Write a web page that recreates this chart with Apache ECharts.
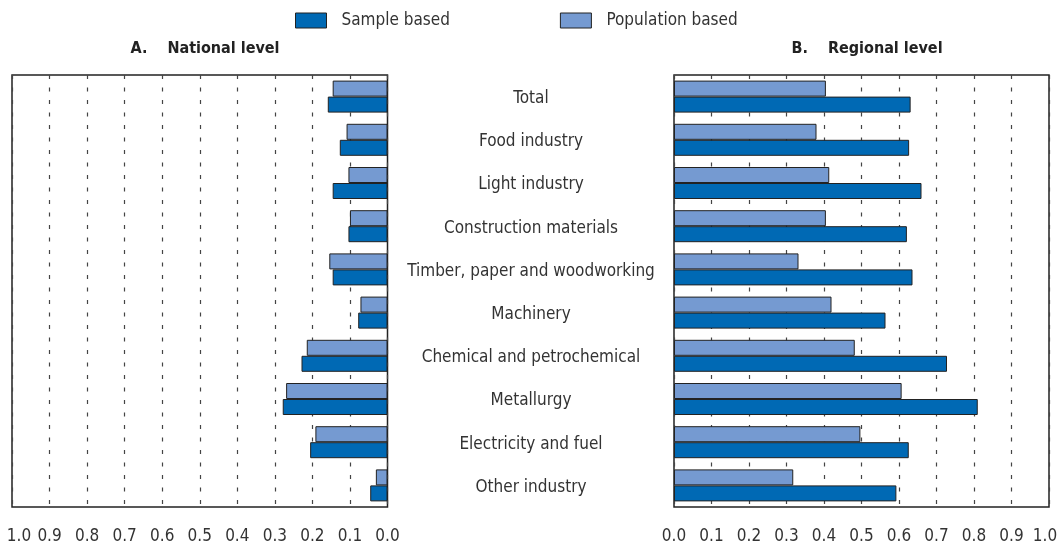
<!DOCTYPE html>
<html>
<head>
<meta charset="utf-8">
<script src="https://cdn.jsdelivr.net/npm/echarts@6/dist/echarts.min.js"></script>
<style>
  html, body { margin: 0; padding: 0; background: #fff; }
  #chart { width: 1057px; height: 547px; }
</style>
</head>
<body>
<div id="chart"></div>
<script>
// Industry groups, top to bottom
const categories = [
  'Total', 'Food industry', 'Light industry', 'Construction materials',
  'Timber, paper and woodworking', 'Machinery', 'Chemical and petrochemical',
  'Metallurgy', 'Electricity and fuel', 'Other industry'
];

// A. National level
const nationalSample     = [0.159, 0.127, 0.146, 0.104, 0.146, 0.078, 0.229, 0.279, 0.206, 0.046];
const nationalPopulation = [0.146, 0.109, 0.104, 0.100, 0.155, 0.072, 0.215, 0.270, 0.192, 0.031];

// B. Regional level
const regionalSample     = [0.631, 0.627, 0.660, 0.621, 0.636, 0.564, 0.728, 0.810, 0.626, 0.593];
const regionalPopulation = [0.405, 0.380, 0.414, 0.405, 0.332, 0.420, 0.482, 0.607, 0.497, 0.318];

const seriesNames = ['Sample based', 'Population based'];
const panelTitles = ['A.    National level', 'B.    Regional level'];

const FONT = '"DejaVu Sans Condensed", "Liberation Sans Narrow", "Roboto", sans-serif';
const TEXT = '#333';
const SAMPLE_COLOR = '#0069b4';
const POP_COLOR = '#759ad1';

const chart = echarts.init(document.getElementById('chart'), null, { renderer: 'canvas' });

const labelFont = { color: TEXT, fontFamily: FONT, fontSize: 17 };

// The outer 1.0 label is nudged inward so it stays inside the canvas
function valueAxis(gridIndex, inverse) {
  return {
    type: 'value', gridIndex, min: 0, max: 1, interval: 0.1, inverse,
    axisLine: { show: false },
    axisTick: { show: false },
    axisLabel: Object.assign({}, labelFont, {
      margin: 21,
      formatter: v => v === 1 ? '{edge|' + v.toFixed(1) + '}' : v.toFixed(1),
      rich: {
        edge: Object.assign({}, labelFont, { padding: inverse ? [0, 0, 0, 14] : [0, 8, 0, 0] })
      }
    }),
    splitLine: { show: true, lineStyle: { color: '#444', width: 1.2, type: [4, 8.5] } }
  };
}

function categoryAxis(gridIndex, showLabels) {
  return {
    type: 'category', gridIndex, data: categories, inverse: true,
    axisLine: { show: false },
    axisTick: { show: false },
    axisLabel: showLabels ? Object.assign({}, labelFont, {
      show: true, align: 'center', margin: 143,
      formatter: v => '{c|' + v + '}',
      rich: { c: Object.assign({}, labelFont, { padding: [4, 0, 0, 0] }) }
    }) : { show: false }
  };
}

function barSeries(name, data, idx, color) {
  return {
    name, type: 'bar', xAxisIndex: idx, yAxisIndex: idx, data,
    barWidth: 16, barGap: '0%',
    itemStyle: { color, borderColor: '#222', borderWidth: 1 },
    emphasis: { disabled: true },
    animation: false
  };
}

const titleStyle = { fontFamily: FONT, fontSize: 16, fontWeight: 'bold', color: '#222' };

chart.setOption({
  animation: false,
  textStyle: { fontFamily: FONT },
  title: [
    { text: panelTitles[0], left: 200, top: 36, textAlign: 'center', textStyle: titleStyle },
    { text: panelTitles[1], left: 862, top: 36, textAlign: 'center', textStyle: titleStyle }
  ],
  legend: {
    data: seriesNames, left: 295, top: 12, padding: 0,
    itemWidth: 31, itemHeight: 15, itemGap: 110,
    icon: 'rect',
    itemStyle: { borderColor: '#222', borderWidth: 1 },
    textStyle: { color: TEXT, fontFamily: FONT, fontSize: 17, padding: [0, 0, 0, 10] },
    selectedMode: false
  },
  grid: [
    { left: 12, top: 75, width: 375.5, height: 432, outerBoundsMode: 'none',
      show: true, borderColor: '#222', borderWidth: 1.5, backgroundColor: 'transparent' },
    { left: 674, top: 75, width: 375, height: 432, outerBoundsMode: 'none',
      show: true, borderColor: '#222', borderWidth: 1.5, backgroundColor: 'transparent' }
  ],
  xAxis: [valueAxis(0, true), valueAxis(1, false)],
  yAxis: [categoryAxis(0, false), categoryAxis(1, true)],
  series: [
    barSeries(seriesNames[1], nationalPopulation, 0, POP_COLOR),
    barSeries(seriesNames[0], nationalSample, 0, SAMPLE_COLOR),
    barSeries(seriesNames[1], regionalPopulation, 1, POP_COLOR),
    barSeries(seriesNames[0], regionalSample, 1, SAMPLE_COLOR)
  ]
});
</script>
</body>
</html>
